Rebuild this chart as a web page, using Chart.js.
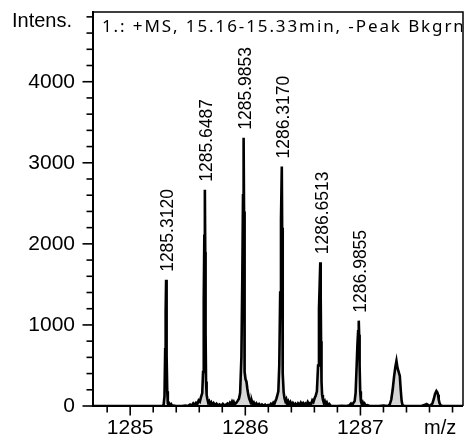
<!DOCTYPE html>
<html>
<head>
<meta charset="utf-8">
<title>Mass spectrum</title>
<script src="https://cdn.jsdelivr.net/npm/chart.js@4/dist/chart.umd.min.js"></script>
<style>
    html, body { margin: 0; padding: 0; background: #ffffff; }
    canvas { display: block; }
</style>
</head>
<body>
<canvas id="spectrumChart" width="470" height="435"></canvas>
<script>
// Centroided peaks (labelled)
const peakMz = [1285.3120, 1285.6487, 1285.9853, 1286.3170, 1286.6513, 1286.9855];
const peakIntensity = [1556, 2667, 3309, 2954, 1774, 1053];

// Profile trace, m/z
const profileMz = [
    1284.677, 1285.270,
    1285.280, 1285.290, 1285.298, 1285.304, 1285.308, 1285.3120, 1285.315, 1285.318, 1285.322, 1285.327,
    1285.333, 1285.340, 1285.347, 1285.356, 1285.366, 1285.380, 1285.395, 1285.420, 1285.450, 1285.480,
    1285.500, 1285.520, 1285.535, 1285.548, 1285.560, 1285.572, 1285.583, 1285.595, 1285.605, 1285.615,
    1285.626, 1285.633, 1285.639, 1285.644, 1285.6487, 1285.652, 1285.655, 1285.659, 1285.664, 1285.670,
    1285.678, 1285.686, 1285.694, 1285.704, 1285.714, 1285.725, 1285.737, 1285.750, 1285.762, 1285.776,
    1285.790, 1285.805, 1285.818, 1285.832, 1285.845, 1285.856, 1285.866, 1285.876, 1285.885, 1285.893,
    1285.900, 1285.907, 1285.920, 1285.932, 1285.945, 1285.955, 1285.966, 1285.974, 1285.980, 1285.9853,
    1285.989, 1285.992, 1285.996, 1286.002, 1286.010, 1286.018, 1286.026, 1286.034, 1286.042, 1286.050,
    1286.058, 1286.066, 1286.075, 1286.085, 1286.096, 1286.108, 1286.120, 1286.132, 1286.145, 1286.158,
    1286.172, 1286.185, 1286.198, 1286.210, 1286.222, 1286.233, 1286.243, 1286.252, 1286.261, 1286.270,
    1286.278, 1286.287, 1286.295, 1286.303, 1286.310, 1286.3170, 1286.320, 1286.323, 1286.327, 1286.333,
    1286.340, 1286.348, 1286.356, 1286.364, 1286.373, 1286.382, 1286.392, 1286.402, 1286.413, 1286.424,
    1286.435, 1286.447, 1286.458, 1286.470, 1286.482, 1286.492, 1286.502, 1286.512, 1286.522, 1286.532,
    1286.542, 1286.552, 1286.562, 1286.572, 1286.582, 1286.592, 1286.602, 1286.612, 1286.622, 1286.632,
    1286.640, 1286.646, 1286.6513, 1286.655, 1286.658, 1286.662, 1286.667, 1286.674, 1286.682, 1286.690,
    1286.698, 1286.708, 1286.718, 1286.730, 1286.742, 1286.760, 1286.800, 1286.840, 1286.880, 1286.905,
    1286.918, 1286.928, 1286.940, 1286.950, 1286.958, 1286.966, 1286.974, 1286.980, 1286.9855, 1286.989,
    1286.993, 1286.998, 1287.004, 1287.012, 1287.020, 1287.028, 1287.036, 1287.046, 1287.060, 1287.080,
    1287.120, 1287.160, 1287.200, 1287.240, 1287.255, 1287.268, 1287.280, 1287.292, 1287.303, 1287.313,
    1287.322, 1287.332, 1287.342, 1287.350, 1287.358, 1287.366, 1287.380, 1287.420, 1287.480, 1287.530,
    1287.560, 1287.566, 1287.572, 1287.578, 1287.584, 1287.592, 1287.610, 1287.625, 1287.638, 1287.648,
    1287.660, 1287.668, 1287.674, 1287.680, 1287.688, 1287.698, 1287.712, 1287.760, 1287.891
];

// Profile trace, intensity
const profileIntensity = [
    0, 0,
    0, 12, 120, 700, 1150, 1556, 1000, 620, 180, 30,
    10, 28, 8, 22, 0, 6, 0, 0, 0, 4,
    0, 18, 6, 32, 14, 40, 24, 70, 55, 110,
    160, 420, 1300, 2100, 2667, 1900, 900, 300, 140, 90,
    40, 58, 20, 44, 12, 36, 10, 28, 6, 20,
    4, 26, 8, 16, 30, 12, 40, 18, 52, 26,
    48, 20, 36, 60, 90, 160, 600, 1600, 2600, 3309,
    2400, 1300, 420, 330, 300, 210, 140, 90, 60, 30,
    54, 14, 40, 10, 32, 6, 24, 2, 18, 4,
    16, 0, 12, 4, 28, 10, 40, 22, 60, 90,
    130, 180, 500, 1400, 2300, 2954, 2200, 1200, 400, 170,
    100, 60, 84, 30, 56, 20, 48, 14, 38, 10,
    30, 6, 34, 12, 42, 18, 36, 10, 30, 16,
    48, 20, 34, 24, 70, 50, 95, 130, 180, 500,
    1200, 1500, 1774, 1350, 800, 300, 140, 80, 40, 60,
    20, 44, 8, 26, 4, 0, 0, 2, 0, 8,
    30, 12, 40, 60, 160, 450, 760, 920, 1053, 880,
    500, 180, 60, 20, 44, 10, 30, 4, 10, 0,
    0, 0, 4, 0, 20, 80, 200, 360, 480, 556,
    470, 420, 370, 200, 60, 10, 0, 0, 0, 0,
    14, 4, 18, 6, 16, 2, 10, 30, 90, 150,
    185, 170, 140, 80, 30, 8, 0, 0, 0
];

const mzRange = [1284.677, 1287.891];
const intensityRange = [0, 4860];
const xLabelValues = [1285, 1286, 1287];
const yLabelValues = [0, 1000, 2000, 3000, 4000];

const titleText = '1.: +MS, 15.16-15.33min, -Peak Bkgrnd';
const AXIS_FONT = '"Liberation Sans", Arial, sans-serif';

function isLabelled(list, value) {
    return list.some(v => Math.abs(v - value) < 1e-6);
}

// keep the plot box fixed: no extra room for edge tick labels
function fixBox(scale, size) {
    if (scale.isHorizontal()) {
        scale.height = size;
    } else {
        scale.width = size;
    }
    scale.paddingTop = 0;
    scale.paddingBottom = 0;
    scale.paddingLeft = 0;
    scale.paddingRight = 0;
}

// Frame, outward tick marks, axis captions, title and peak annotations
const spectrumDecor = {
    id: 'spectrumDecor',
    afterDraw(chart) {
        const ctx = chart.ctx;
        const area = chart.chartArea;
        const xs = chart.scales.x;
        const ys = chart.scales.y;

        ctx.save();
        ctx.strokeStyle = '#000';
        ctx.lineCap = 'butt';

        // top and right border
        ctx.lineWidth = 1.5;
        ctx.beginPath();
        ctx.moveTo(area.left, area.top);
        ctx.lineTo(area.right, area.top);
        ctx.lineTo(area.right, area.bottom);
        ctx.stroke();

        // axes
        ctx.lineWidth = 2;
        ctx.beginPath();
        ctx.moveTo(area.left, area.top - 1);
        ctx.lineTo(area.left, area.bottom);
        ctx.lineTo(area.right, area.bottom);
        ctx.stroke();

        ctx.lineWidth = 1.6;
        xs.ticks.forEach(t => {
            const px = xs.getPixelForValue(t.value);
            const len = isLabelled(xLabelValues, t.value) ? 9.5 : 6.5;
            ctx.beginPath();
            ctx.moveTo(px, area.bottom);
            ctx.lineTo(px, area.bottom + len);
            ctx.stroke();
        });
        ys.ticks.forEach(t => {
            const py = ys.getPixelForValue(t.value);
            const len = isLabelled(yLabelValues, t.value) ? 10.5 : 6.5;
            ctx.beginPath();
            ctx.moveTo(area.left, py);
            ctx.lineTo(area.left - len, py);
            ctx.stroke();
        });

        // axis captions
        ctx.fillStyle = '#000';
        ctx.font = '20px ' + AXIS_FONT;
        ctx.textBaseline = 'alphabetic';
        ctx.textAlign = 'left';
        ctx.fillText('Intens.', 12, 27);
        ctx.fillText('m/z', 424, 434);

        // peak labels, rotated
        ctx.font = '17.5px ' + AXIS_FONT;
        ctx.textAlign = 'left';
        ctx.textBaseline = 'middle';
        peakMz.forEach((mz, i) => {
            const px = xs.getPixelForValue(mz);
            const py = ys.getPixelForValue(peakIntensity[i]);
            ctx.save();
            ctx.translate(px + 2.5, py - 8);
            ctx.rotate(-Math.PI / 2);
            ctx.fillText(mz.toFixed(4), 0, 0);
            ctx.restore();
        });

        // title, clipped by the frame
        ctx.beginPath();
        ctx.rect(area.left, area.top, area.right - area.left - 1, area.bottom - area.top);
        ctx.clip();
        ctx.font = '17px "Noto Sans", sans-serif';
        ctx.textBaseline = 'alphabetic';
        ctx.letterSpacing = '1.9px';
        ctx.fillText(titleText, 102, 32);
        ctx.restore();
    }
};

const spectrumPoints = profileMz.map((mz, i) => ({ x: mz, y: profileIntensity[i] }));

new Chart(document.getElementById('spectrumChart'), {
    type: 'scatter',
    data: {
        datasets: [{
            data: spectrumPoints,
            showLine: true,
            borderColor: '#000000',
            borderWidth: 2.6,
            backgroundColor: '#d6d6d6',
            fill: 'origin',
            pointRadius: 0,
            tension: 0
        }]
    },
    options: {
        responsive: false,
        animation: false,
        devicePixelRatio: 1,
        layout: { padding: { top: 12, right: 7, left: 0, bottom: 0 } },
        plugins: {
            legend: { display: false },
            tooltip: { enabled: false }
        },
        scales: {
            x: {
                type: 'linear',
                min: mzRange[0],
                max: mzRange[1],
                border: { display: false },
                grid: { display: false, drawTicks: false },
                afterFit: s => fixBox(s, 29),
                ticks: {
                    stepSize: 0.2,
                    includeBounds: false,
                    autoSkip: false,
                    maxRotation: 0,
                    padding: 10,
                    color: '#000',
                    font: { family: AXIS_FONT, size: 21 },
                    callback: v => isLabelled(xLabelValues, v) ? String(Math.round(v)) : ''
                }
            },
            y: {
                min: intensityRange[0],
                max: intensityRange[1],
                border: { display: false },
                grid: { display: false, drawTicks: false },
                afterFit: s => fixBox(s, 93),
                ticks: {
                    stepSize: 200,
                    includeBounds: false,
                    autoSkip: false,
                    padding: 18,
                    color: '#000',
                    font: { family: AXIS_FONT, size: 21 },
                    callback: v => isLabelled(yLabelValues, v) ? String(v) : ''
                }
            }
        }
    },
    plugins: [spectrumDecor]
});
</script>
</body>
</html>
